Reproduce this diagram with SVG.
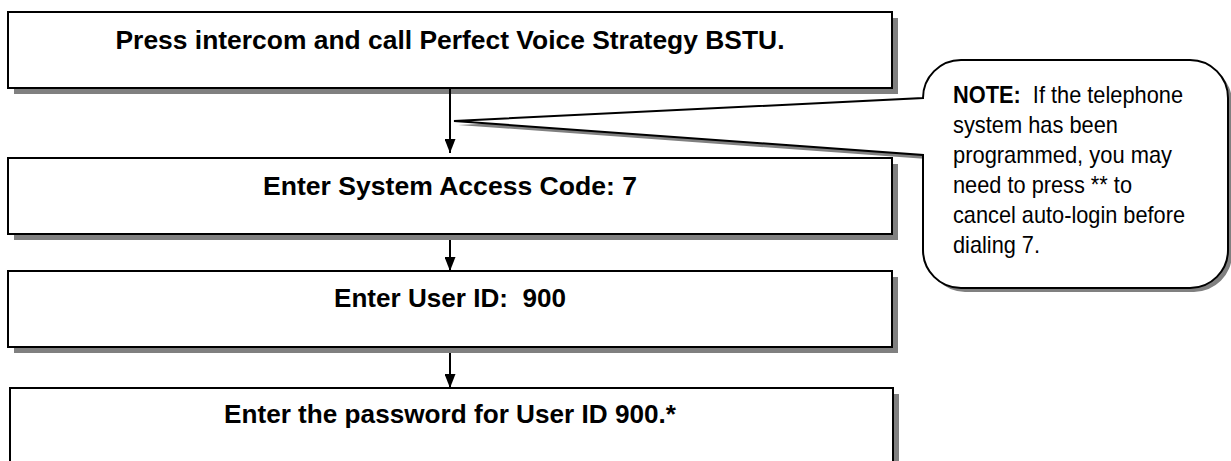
<svg xmlns="http://www.w3.org/2000/svg" width="1231" height="461" viewBox="0 0 1231 461">
  <style>
    .box { fill: #ffffff; stroke: #000000; stroke-width: 2; }
    .shadow { fill: #808080; stroke: none; }
    .label { font-family: "Liberation Sans", Arial, sans-serif; font-weight: bold; font-size: 26px; fill: #000000; text-anchor: middle; }
    .note { font-family: "Liberation Sans Narrow", "Arial Narrow", "Liberation Sans", Arial, sans-serif; font-size: 24px; fill: #000000; }
    .conn { stroke: #000000; stroke-width: 2; fill: none; }
  </style>
  <defs>
    <marker id="arrow" markerWidth="14" markerHeight="11" refX="14" refY="5.5" orient="auto" markerUnits="userSpaceOnUse" viewBox="0 0 14 11">
      <path d="M0,0 L14,5.5 L0,11 Z" fill="#000000"/>
    </marker>
    <path id="callout" d="M454,121 L923,98 A38,38 0 0 1 961,60 L1190,60 A38,38 0 0 1 1228,98 L1228,250 A38,38 0 0 1 1190,288 L961,288 A38,38 0 0 1 923,250 L923,155 Z"/>
  </defs>
  <rect width="1231" height="461" fill="#ffffff"/>

  <g id="node-step1">
    <rect class="shadow" x="14" y="18" width="884" height="76"/>
    <rect class="box" x="8" y="12" width="884" height="76"/>
    <text class="label" x="450" y="49" textLength="669" lengthAdjust="spacingAndGlyphs">Press intercom and call Perfect Voice Strategy BSTU.</text>
  </g>

  <g id="node-step2">
    <rect class="shadow" x="14" y="164" width="884" height="76"/>
    <rect class="box" x="8" y="158" width="884" height="76"/>
    <text class="label" x="450" y="195" textLength="374" lengthAdjust="spacingAndGlyphs">Enter System Access Code: 7</text>
  </g>

  <g id="node-step3">
    <rect class="shadow" x="14" y="277" width="884" height="76"/>
    <rect class="box" x="8" y="271" width="884" height="76"/>
    <text class="label" x="450" y="307" textLength="232" lengthAdjust="spacingAndGlyphs" xml:space="preserve">Enter User ID:  900</text>
  </g>

  <g id="node-step4">
    <rect class="shadow" x="16" y="394" width="883" height="90"/>
    <rect class="box" x="10" y="388" width="883" height="90"/>
    <text class="label" x="450" y="423" textLength="452" lengthAdjust="spacingAndGlyphs">Enter the password for User ID 900.*</text>
  </g>

  <g id="connectors">
    <line class="conn" x1="450" y1="88" x2="450" y2="153" marker-end="url(#arrow)"/>
    <line class="conn" x1="450" y1="240" x2="450" y2="271" marker-end="url(#arrow)"/>
    <line class="conn" x1="450" y1="353" x2="450" y2="388" marker-end="url(#arrow)"/>
  </g>

  <g id="node-note">
    <use href="#callout" class="shadow" transform="translate(4,4)"/>
    <use href="#callout" fill="#ffffff" stroke="#000000" stroke-width="2"/>
    <text class="note" x="953" y="103" textLength="230" lengthAdjust="spacingAndGlyphs" xml:space="preserve"><tspan font-weight="bold">NOTE:</tspan>  If the telephone</text>
    <text class="note" x="953" y="133" textLength="165" lengthAdjust="spacingAndGlyphs">system has been</text>
    <text class="note" x="953" y="163" textLength="219" lengthAdjust="spacingAndGlyphs">programmed, you may</text>
    <text class="note" x="953" y="193" textLength="179" lengthAdjust="spacingAndGlyphs">need to press ** to</text>
    <text class="note" x="953" y="223" textLength="232" lengthAdjust="spacingAndGlyphs">cancel auto-login before</text>
    <text class="note" x="953" y="253" textLength="87" lengthAdjust="spacingAndGlyphs">dialing 7.</text>
  </g>
</svg>
